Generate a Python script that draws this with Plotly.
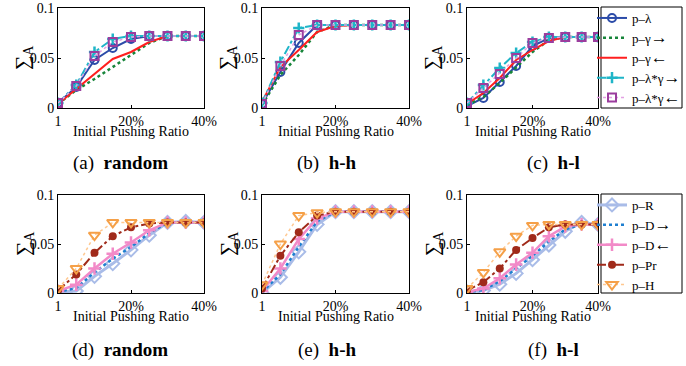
import plotly.graph_objects as go

W, H = 686, 366

# ---------------- data ----------------
ratio = [0, 5, 10, 15, 20, 25, 30, 35, 40]
x_tick_vals = [0, 20, 40]
x_tick_text = ["1", "20%", "40%"]
y_tick_vals = [0, 0.05, 0.1]
y_tick_text = ["0", "0.05", "0.1"]

RA = "<span style='font-size:17px'>→</span>"
LA = "<span style='font-size:17px'>←</span>"
top_names = ["p–λ", "p–γ" + RA, "p–γ" + LA, "p–λ*γ" + RA, "p–λ*γ" + LA]
bottom_names = ["p–R", "p–D" + RA, "p–D" + LA, "p–Pr", "p–H"]
captions = [("(a)", "random"), ("(b)", "h-h"), ("(c)", "h-l"),
            ("(d)", "random"), ("(e)", "h-h"), ("(f)", "h-l")]

# (a) random
a_lam   = [0.005, 0.021, 0.048, 0.060, 0.069, 0.072, 0.072, 0.072, 0.072]
a_gam_f = [0.004, 0.018, 0.029, 0.041, 0.053, 0.065, 0.072, 0.072, 0.072]
a_gam_b = [0.004, 0.019, 0.034, 0.049, 0.056, 0.066, 0.072, 0.072, 0.072]
a_lg_f  = [0.005, 0.023, 0.056, 0.069, 0.072, 0.072, 0.072, 0.072, 0.072]
a_lg_b  = [0.005, 0.022, 0.052, 0.066, 0.071, 0.072, 0.072, 0.072, 0.072]
# (b) h-h
b_lam   = [0.004, 0.036, 0.065, 0.083, 0.083, 0.083, 0.083, 0.083, 0.083]
b_gam_f = [0.003, 0.033, 0.053, 0.076, 0.083, 0.083, 0.083, 0.083, 0.083]
b_gam_b = [0.006, 0.041, 0.058, 0.076, 0.082, 0.083, 0.083, 0.083, 0.083]
b_lg_f  = [0.005, 0.046, 0.080, 0.083, 0.083, 0.083, 0.083, 0.083, 0.083]
b_lg_b  = [0.004, 0.042, 0.073, 0.083, 0.083, 0.083, 0.083, 0.083, 0.083]
# (c) h-l
c_lam   = [0.002, 0.010, 0.026, 0.042, 0.062, 0.070, 0.071, 0.071, 0.071]
c_gam_f = [0.003, 0.011, 0.025, 0.041, 0.056, 0.068, 0.071, 0.071, 0.071]
c_gam_b = [0.004, 0.015, 0.030, 0.048, 0.058, 0.067, 0.071, 0.071, 0.071]
c_lg_f  = [0.005, 0.023, 0.040, 0.055, 0.066, 0.071, 0.071, 0.071, 0.071]
c_lg_b  = [0.005, 0.020, 0.034, 0.050, 0.065, 0.070, 0.071, 0.071, 0.071]
# (d) random
d_R  = [0.001, 0.002, 0.017, 0.030, 0.044, 0.059, 0.072, 0.073, 0.072]
d_Df = [0.001, 0.005, 0.021, 0.035, 0.047, 0.061, 0.072, 0.072, 0.072]
d_Db = [0.002, 0.0085, 0.025, 0.040, 0.0515, 0.064, 0.072, 0.072, 0.072]
d_Pr = [0.0025, 0.019, 0.041, 0.058, 0.067, 0.071, 0.072, 0.072, 0.072]
d_H  = [0.0045, 0.025, 0.059, 0.072, 0.072, 0.072, 0.072, 0.072, 0.072]
# (e) h-h
e_R  = [0.000, 0.016, 0.042, 0.070, 0.083, 0.083, 0.083, 0.083, 0.083]
e_Df = [0.001, 0.019, 0.047, 0.073, 0.083, 0.083, 0.083, 0.083, 0.083]
e_Db = [0.002, 0.025, 0.055, 0.076, 0.083, 0.083, 0.083, 0.083, 0.083]
e_Pr = [0.0045, 0.038, 0.062, 0.079, 0.083, 0.083, 0.083, 0.083, 0.083]
e_H  = [0.0085, 0.050, 0.079, 0.082, 0.083, 0.083, 0.083, 0.083, 0.083]
# (f) h-l
f_R  = [0.001, 0.0025, 0.009, 0.020, 0.034, 0.049, 0.063, 0.072, 0.070]
f_Df = [0.001, 0.003, 0.012, 0.025, 0.038, 0.0525, 0.065, 0.070, 0.070]
f_Db = [0.001, 0.0045, 0.015, 0.029, 0.041, 0.058, 0.068, 0.070, 0.070]
f_Pr = [0.0025, 0.011, 0.025, 0.044, 0.056, 0.067, 0.070, 0.070, 0.070]
f_H  = [0.0045, 0.021, 0.042, 0.058, 0.069, 0.070, 0.070, 0.070, 0.070]

top_panels = [[a_lam, a_gam_f, a_gam_b, a_lg_f, a_lg_b],
              [b_lam, b_gam_f, b_gam_b, b_lg_f, b_lg_b],
              [c_lam, c_gam_f, c_gam_b, c_lg_f, c_lg_b]]
bottom_panels = [[d_R, d_Df, d_Db, d_Pr, d_H],
                 [e_R, e_Df, e_Db, e_Pr, e_H],
                 [f_R, f_Df, f_Db, f_Pr, f_H]]

# ---------------- styles ----------------
top_styles = [
    dict(line=dict(color="#2B4BA8", width=2, dash="solid"),
         marker=dict(symbol="circle-open", size=8, color="#2B4BA8", line=dict(width=2)), mode="lines+markers"),
    dict(line=dict(color="#17853A", width=2.5, dash="dot"), mode="lines"),
    dict(line=dict(color="#FF1F1F", width=2, dash="solid"), mode="lines"),
    dict(line=dict(color="#1FB5C8", width=2, dash="dashdot"),
         marker=dict(symbol="cross-thin-open", size=8, color="#1FB5C8", line=dict(width=2.5, color="#1FB5C8")), mode="lines+markers"),
    dict(line=dict(color="#E3A0E3", width=1.5, dash="dot"),
         marker=dict(symbol="square-open", size=8, color="#9B3D9E", line=dict(width=2, color="#9B3D9E")), mode="lines+markers"),
]
bottom_styles = [
    dict(line=dict(color="#A9BCE8", width=3, dash="solid"),
         marker=dict(symbol="diamond-open", size=10, color="#A9BCE8", line=dict(width=2, color="#A9BCE8")), mode="lines+markers"),
    dict(line=dict(color="#1E7FD0", width=2.5, dash="dot"), mode="lines"),
    dict(line=dict(color="#F28AC8", width=2.5, dash="solid"),
         marker=dict(symbol="cross-thin-open", size=9, color="#F28AC8", line=dict(width=2.5, color="#F28AC8")), mode="lines+markers"),
    dict(line=dict(color="#A02A1A", width=2, dash="dashdot"),
         marker=dict(symbol="circle", size=8, color="#A02A1A"), mode="lines+markers"),
    dict(line=dict(color="#FFC890", width=1.5, dash="dot"),
         marker=dict(symbol="triangle-down-open", size=10, color="#F5A048", line=dict(width=2, color="#F5A048")), mode="lines+markers"),
]

# ---------------- layout geometry (pixels) ----------------
col_px = [(58, 204), (262, 409), (467, 598)]
row_px = [(8, 108), (195, 293)]
FONT = "Liberation Serif"

def px_x(p):
    return p / W

def px_y(p):
    return 1 - p / H

fig = go.Figure()
layout = dict(width=W, height=H, margin=dict(l=0, r=0, t=0, b=0, autoexpand=False),
              paper_bgcolor="white", plot_bgcolor="white",
              font=dict(family=FONT, size=14, color="black"),
              showlegend=True)

annotations = []
shapes = []
idx = 0
for r, (panels, names, styles, leg) in enumerate(
        [(top_panels, top_names, top_styles, "legend"),
         (bottom_panels, bottom_names, bottom_styles, "legend2")]):
    y0, y1 = row_px[r]
    for c in range(3):
        idx += 1
        x0, x1 = col_px[c]
        xa = "x" if idx == 1 else f"x{idx}"
        ya = "y" if idx == 1 else f"y{idx}"
        for s, (vals, name, st) in enumerate(zip(panels[c], names, styles)):
            fig.add_trace(go.Scatter(x=ratio, y=vals, name=name, xaxis=xa, yaxis=ya,
                                     legend=leg, showlegend=(c == 0), **st))
        axkey = "" if idx == 1 else str(idx)
        layout["xaxis" + axkey] = dict(domain=[px_x(x0), px_x(x1)], anchor=ya, range=[0, 40],
                                       tickvals=x_tick_vals, ticktext=x_tick_text,
                                       showline=True, mirror=True, linecolor="black", linewidth=1,
                                       ticks="inside", ticklen=3, tickcolor="black",
                                       showgrid=False, zeroline=False, automargin=False,
                                       tickfont=dict(family=FONT, size=14))
        layout["yaxis" + axkey] = dict(domain=[px_y(y1), px_y(y0)], anchor=xa, range=[0, 0.1],
                                       tickvals=y_tick_vals, ticktext=y_tick_text,
                                       showline=True, mirror=True, linecolor="black", linewidth=1,
                                       ticks="inside", ticklen=3, tickcolor="black",
                                       showgrid=False, zeroline=False, automargin=False,
                                       tickfont=dict(family=FONT, size=14))
        # y title
        annotations.append(dict(text="∑<sub>A</sub>", x=px_x(x0 - 34), y=px_y((y0 + y1) / 2),
                                xref="paper", yref="paper", showarrow=False, textangle=-90,
                                font=dict(family=FONT, size=20), xanchor="center", yanchor="middle"))
        # x title
        annotations.append(dict(text="Initial Pushing Ratio", x=px_x((x0 + x1) / 2),
                                y=px_y(y1 + 23), xref="paper", yref="paper", showarrow=False,
                                font=dict(family=FONT, size=14), xanchor="center", yanchor="middle"))
        # caption
        lab, bold = captions[idx - 1]
        cap_x = [120, 327, 553][c]
        cap_y = [163, 350][r]
        annotations.append(dict(text=f"{lab}  <b>{bold}</b>", x=px_x(cap_x), y=px_y(cap_y),
                                xref="paper", yref="paper", showarrow=False,
                                font=dict(family=FONT, size=19), xanchor="center", yanchor="middle"))
    # legend box
    ly0, ly1 = [(7, 108), (194, 293)][r]
    shapes.append(dict(type="rect", xref="paper", yref="paper",
                       x0=px_x(601), x1=px_x(682), y0=px_y(ly1), y1=px_y(ly0),
                       line=dict(color="black", width=1), fillcolor="rgba(0,0,0,0)"))
    layout[leg] = dict(x=px_x(592), y=px_y(ly0 - 4), xanchor="left", yanchor="top",
                       bgcolor="rgba(0,0,0,0)", borderwidth=0,
                       font=dict(family=FONT, size=13), tracegroupgap=0)

layout["annotations"] = annotations
layout["shapes"] = shapes
fig.update_layout(**layout)
fig.write_html("out.html", config={"displayModeBar": False},
               post_script="document.body.style.margin='0px';document.body.style.overflow='hidden';")
